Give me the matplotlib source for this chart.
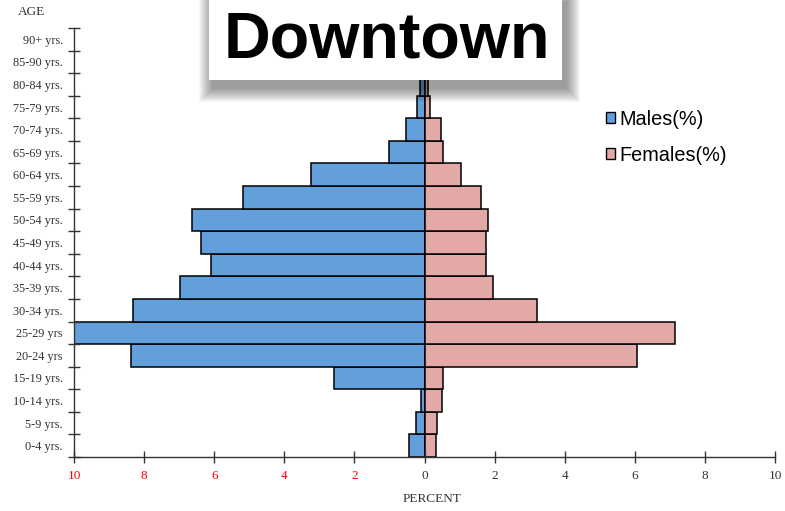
import numpy as np
import matplotlib.pyplot as plt
from matplotlib.patches import Rectangle

ages = ["0-4 yrs.", "5-9 yrs.", "10-14 yrs.", "15-19 yrs.", "20-24 yrs", "25-29 yrs",
        "30-34 yrs.", "35-39 yrs.", "40-44 yrs.", "45-49 yrs.", "50-54 yrs.", "55-59 yrs.",
        "60-64 yrs.", "65-69 yrs.", "70-74 yrs.", "75-79 yrs.", "80-84 yrs.", "85-90 yrs.",
        "90+ yrs."]
males = [0.44, 0.23, 0.10, 2.57, 8.37, 10.3, 8.32, 6.98, 6.10, 6.39, 6.62, 5.17,
         3.25, 1.02, 0.53, 0.21, 0.13, 0.06, 0.03]
females = [0.33, 0.36, 0.49, 0.52, 6.06, 7.14, 3.22, 1.95, 1.76, 1.76, 1.81, 1.60,
           1.05, 0.52, 0.46, 0.16, 0.10, 0.05, 0.03]
xticks = [-10, -8, -6, -4, -2, 0, 2, 4, 6, 8, 10]
xlabels = ["10", "8", "6", "4", "2", "0", "2", "4", "6", "8", "10"]

blue = "#629fdb"
pink = "#e2a9a7"
serif = "Liberation Serif"
sans = "Liberation Sans"

W, H = 785, 511
fig = plt.figure(figsize=(W / 100, H / 100), dpi=100)
ax = fig.add_axes([74 / W, (H - 457) / H, (775 - 74) / W, (457 - 28) / H])

y = np.arange(len(ages))
ax.barh(y, -np.array(males), height=1.0, color=blue, edgecolor="black", linewidth=1.1,
        label="Males(%)")
ax.barh(y, females, height=1.0, color=pink, edgecolor="black", linewidth=1.1,
        label="Females(%)")

ax.set_xlim(-10, 10)
ax.set_ylim(-0.5, len(ages) - 0.5)
for s in ["top", "right"]:
    ax.spines[s].set_visible(False)
for s in ["left", "bottom"]:
    ax.spines[s].set_color("#333333")
    ax.spines[s].set_linewidth(1.0)

ax.set_xticks(xticks)
ax.set_xticklabels(xlabels, fontfamily=serif, fontsize=9.5)
for lab, v in zip(ax.get_xticklabels(), xticks):
    lab.set_color("red" if v < 0 else "#333333")
ax.tick_params(axis="x", direction="inout", length=9, width=1, color="#333333", pad=5)

ax.set_yticks(y)
ax.set_yticklabels(ages, fontfamily=serif, fontsize=8.8, color="#333333")
ax.tick_params(axis="y", which="major", length=0, pad=8)
ax.set_yticks(np.arange(len(ages) + 1) - 0.5, minor=True)
ax.tick_params(axis="y", which="minor", direction="inout", length=9, width=1, color="#333333")

fig.text(31 / W, 1 - 12 / H, "AGE", fontfamily=serif, fontsize=9.5, color="#333333",
         ha="center", va="center")
fig.text(432 / W, 1 - 499 / H, "PERCENT", fontfamily=serif, fontsize=9.5, color="#333333",
         ha="center", va="center")

# legend
leg = ax.legend(loc="upper left", bbox_to_anchor=(588 / W, 1 - 92 / H),
                bbox_transform=fig.transFigure, frameon=False,
                prop={"family": sans, "size": 14.3}, handlelength=0.48, handleheight=0.48,
                handletextpad=0.2, labelspacing=0.85)
for h in leg.legend_handles:
    h.set_linewidth(1.0)

# title box with soft shadow
bx0, bx1, by0, by1 = 209, 562, -5, 80
for i in range(14, 0, -1):
    fig.patches.append(Rectangle(((bx0 + 4 - i) / W, 1 - (by1 + 8 + i) / H),
                                 (bx1 - bx0 + 2 * i) / W, (by1 - by0 + 2 * i) / H,
                                 transform=fig.transFigure, facecolor="black",
                                 edgecolor="none", alpha=0.03, zorder=5))
fig.patches.append(Rectangle((bx0 / W, 1 - by1 / H), (bx1 - bx0) / W, (by1 - by0) / H,
                             transform=fig.transFigure, facecolor="white",
                             edgecolor="none", zorder=6))
fig.text((bx0 + bx1) / 2 / W + 1 / W, 1 - 58 / H, "Downtown", fontfamily=sans,
         fontweight="bold", fontsize=46.5, color="black", ha="center", va="baseline",
         zorder=7)

fig.savefig("out.png", dpi=100)
